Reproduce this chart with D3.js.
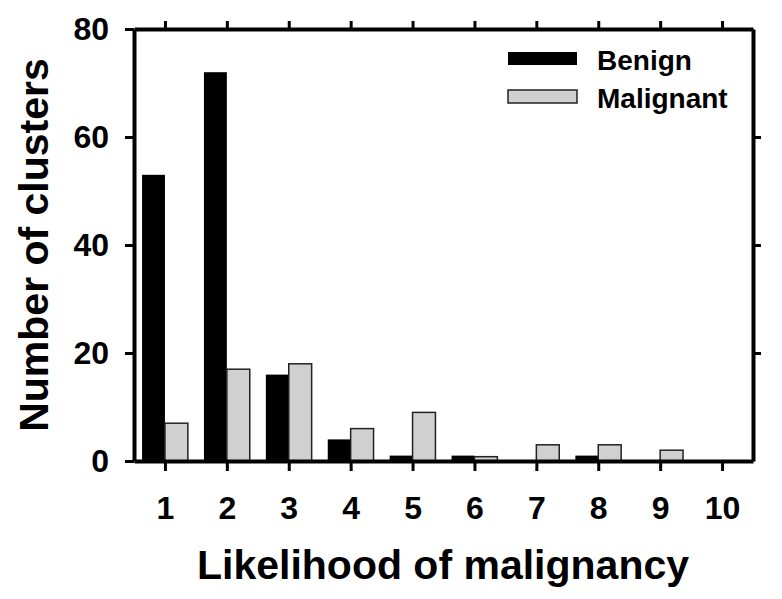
<!DOCTYPE html>
<html>
<head>
<meta charset="utf-8">
<script src="https://cdn.jsdelivr.net/npm/d3@7"></script>
<style>
  body { margin: 0; background: #fff; }
  text { font-family: "Liberation Sans", Arial, sans-serif; font-weight: bold; fill: #000; }
</style>
</head>
<body>
<div id="chart"></div>
<script>
// data
var categories = [1, 2, 3, 4, 5, 6, 7, 8, 9, 10];
var benign = [53, 72, 16, 4, 1, 1, 0, 1, 0, 0];
var malignant = [7, 17, 18, 6, 9, 0.8, 3, 3, 2, 0];
var yTicks = [0, 20, 40, 60, 80];

var svgWidth = 782;
var svgHeight = 599;

var plot = { left: 134, right: 753, top: 29, bottom: 461 };

var svg = d3.select("#chart")
  .append("svg")
  .attr("width", svgWidth)
  .attr("height", svgHeight);

var x = d3.scaleLinear().domain([0.5, 10.5]).range([plot.left, plot.right]);
var y = d3.scaleLinear().domain([0, 80]).range([plot.bottom, plot.top]);
var barW = x(0.37) - x(0);

// bars
svg.append("g").selectAll("rect")
  .data(categories)
  .join("rect")
  .attr("x", (d, i) => x(d) - barW)
  .attr("y", (d, i) => y(benign[i]))
  .attr("width", barW)
  .attr("height", (d, i) => y(0) - y(benign[i]))
  .attr("fill", "#000");

svg.append("g").selectAll("rect")
  .data(categories)
  .join("rect")
  .attr("x", d => x(d))
  .attr("y", (d, i) => y(malignant[i]))
  .attr("width", barW)
  .attr("height", (d, i) => y(0) - y(malignant[i]))
  .attr("fill", "#d0d0d0")
  .attr("stroke", "#222")
  .attr("stroke-width", 1.5);

// axes
var bottomAxis = d3.axisBottom(x).tickValues(categories).tickSize(10).tickPadding(25).tickSizeOuter(0);
var topAxis = d3.axisTop(x).tickValues(categories).tickSize(8).tickFormat("").tickSizeOuter(0);
var leftAxis = d3.axisLeft(y).tickValues(yTicks).tickSize(9).tickPadding(16).tickSizeOuter(0);
var rightAxis = d3.axisRight(y).tickValues([20, 40, 60]).tickSize(8).tickFormat("").tickSizeOuter(0);

function styleAxis(g) {
  g.select(".domain").attr("stroke-width", 4).attr("stroke", "#000");
  g.selectAll(".tick line").attr("stroke-width", 3).attr("stroke", "#000");
  g.selectAll(".tick text").style("font-size", "32px").attr("font-family", null).attr("fill", "#000");
}

svg.append("g").attr("transform", `translate(0, ${plot.bottom})`).call(bottomAxis).call(styleAxis);
svg.append("g").attr("transform", `translate(0, ${plot.top})`).call(topAxis).call(styleAxis);
svg.append("g").attr("transform", `translate(${plot.left}, 0)`).call(leftAxis).call(styleAxis);
svg.append("g").attr("transform", `translate(${plot.right}, 0)`).call(rightAxis).call(styleAxis);

// axis titles
svg.append("text")
  .attr("x", 443)
  .attr("y", 579)
  .attr("text-anchor", "middle")
  .style("font-size", "41px")
  .text("Likelihood of malignancy");

svg.append("text")
  .attr("transform", `translate(48, ${(plot.top + plot.bottom) / 2}) rotate(-90)`)
  .attr("text-anchor", "middle")
  .style("font-size", "41px")
  .text("Number of clusters");

// legend
var legend = [
  { name: "Benign", fill: "#000", stroke: "none", y: 52 },
  { name: "Malignant", fill: "#d0d0d0", stroke: "#222", y: 90 }
];
var lg = svg.append("g");
lg.selectAll("rect")
  .data(legend)
  .join("rect")
  .attr("x", 508)
  .attr("y", d => d.y)
  .attr("width", 69)
  .attr("height", 13)
  .attr("fill", d => d.fill)
  .attr("stroke", d => d.stroke)
  .attr("stroke-width", 1.5);
lg.selectAll("text")
  .data(legend)
  .join("text")
  .attr("x", 597)
  .attr("y", d => d.y + 18)
  .style("font-size", "28px")
  .text(d => d.name);
</script>
</body>
</html>
